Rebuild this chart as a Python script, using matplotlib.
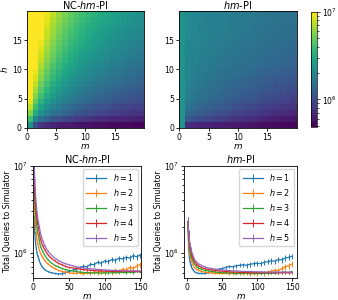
import numpy as np
import matplotlib
matplotlib.use("Agg")
import matplotlib.pyplot as plt
from matplotlib.colors import LogNorm
from matplotlib.ticker import NullFormatter

# Heatmaps: total queries (millions), rows h = 1..20 (bottom to top), columns m = 1..20
nc_grid = [
    [2.2, 1.0, 0.8, 0.72, 0.67, 0.63, 0.61, 0.6, 0.58, 0.57, 0.56, 0.55, 0.54, 0.54, 0.53, 0.53, 0.52, 0.52, 0.51, 0.51],
    [3.9, 2.0, 1.5, 1.25, 1.1, 1.0, 0.93, 0.87, 0.83, 0.79, 0.76, 0.74, 0.72, 0.7, 0.68, 0.67, 0.66, 0.65, 0.64, 0.63],
    [5.7, 3.1, 2.2, 1.8, 1.55, 1.4, 1.3, 1.2, 1.1, 1.04, 0.99, 0.95, 0.92, 0.89, 0.86, 0.84, 0.82, 0.80, 0.78, 0.77],
    [7.5, 4.0, 2.8, 2.2, 1.9, 1.7, 1.5, 1.4, 1.3, 1.22, 1.15, 1.1, 1.06, 1.02, 0.98, 0.95, 0.92, 0.9, 0.88, 0.86],
    [9.2, 4.8, 3.4, 2.6, 2.2, 1.94, 1.74, 1.6, 1.48, 1.39, 1.31, 1.25, 1.19, 1.14, 1.1, 1.06, 1.03, 1.0, 0.98, 0.95],
    [11, 5.7, 4.0, 3.1, 2.6, 2.2, 1.97, 1.8, 1.66, 1.55, 1.46, 1.39, 1.32, 1.27, 1.22, 1.17, 1.14, 1.1, 1.07, 1.04],
    [12.7, 6.6, 4.5, 3.5, 2.9, 2.5, 2.2, 2.0, 1.85, 1.72, 1.61, 1.53, 1.45, 1.39, 1.33, 1.28, 1.24, 1.2, 1.16, 1.13],
    [14.5, 7.45, 5.1, 4.0, 3.25, 2.8, 2.45, 2.2, 2.02, 1.88, 1.76, 1.66, 1.58, 1.51, 1.44, 1.39, 1.34, 1.29, 1.25, 1.22],
    [16.2, 8.3, 5.7, 4.4, 3.6, 3.1, 2.7, 2.42, 2.2, 2.04, 1.91, 1.8, 1.71, 1.63, 1.55, 1.49, 1.44, 1.39, 1.34, 1.3],
    [18, 9.2, 6.3, 4.8, 3.95, 3.4, 2.95, 2.6, 2.4, 2.2, 2.06, 1.94, 1.83, 1.74, 1.66, 1.6, 1.54, 1.48, 1.43, 1.39],
    [19.7, 10.1, 6.9, 5.3, 4.3, 3.7, 3.2, 2.9, 2.6, 2.4, 2.2, 2.07, 1.96, 1.86, 1.77, 1.7, 1.63, 1.57, 1.52, 1.47],
    [21.5, 11, 7.45, 5.7, 4.65, 3.95, 3.45, 3.1, 2.8, 2.55, 2.36, 2.2, 2.08, 1.97, 1.88, 1.8, 1.73, 1.66, 1.61, 1.55],
    [23.2, 11.8, 8.0, 6.1, 5.0, 4.2, 3.7, 3.3, 3.0, 2.7, 2.5, 2.35, 2.2, 2.09, 1.99, 1.9, 1.83, 1.76, 1.69, 1.64],
    [25, 12.7, 8.6, 6.6, 5.35, 4.5, 3.95, 3.5, 3.2, 2.9, 2.7, 2.5, 2.33, 2.2, 2.1, 2.0, 1.92, 1.85, 1.78, 1.72],
    [26.7, 13.6, 9.2, 7.0, 5.7, 4.8, 4.2, 3.7, 3.4, 3.1, 2.84, 2.6, 2.47, 2.33, 2.2, 2.1, 2.01, 1.94, 1.86, 1.8],
    [28.5, 14.5, 9.8, 7.45, 6.05, 5.1, 4.45, 3.95, 3.56, 3.25, 3.0, 2.8, 2.6, 2.45, 2.32, 2.2, 2.11, 2.02, 1.95, 1.88],
    [30.2, 15.3, 10.4, 7.9, 6.4, 5.4, 4.7, 4.17, 3.76, 3.4, 3.15, 2.93, 2.74, 2.58, 2.43, 2.31, 2.2, 2.11, 2.03, 1.96],
    [32, 16.2, 11, 8.3, 6.75, 5.7, 4.95, 4.4, 3.95, 3.6, 3.3, 3.1, 2.87, 2.7, 2.55, 2.42, 2.3, 2.2, 2.12, 2.04],
    [33.7, 17.1, 11.5, 8.8, 7.1, 6.0, 5.2, 4.6, 4.15, 3.8, 3.47, 3.22, 3.0, 2.82, 2.67, 2.53, 2.4, 2.3, 2.2, 2.12],
    [35.5, 18, 12.1, 9.2, 7.45, 6.3, 5.45, 4.8, 4.34, 3.95, 3.63, 3.4, 3.14, 2.95, 2.8, 2.6, 2.51, 2.4, 2.29, 2.2],
]

hm_grid = [
    [2.3, 0.72, 0.69, 0.67, 0.66, 0.65, 0.63, 0.62, 0.61, 0.60, 0.59, 0.58, 0.57, 0.56, 0.55, 0.54, 0.535, 0.53, 0.52, 0.515],
    [2.3, 1.12, 1.03, 0.97, 0.92, 0.89, 0.86, 0.83, 0.80, 0.77, 0.75, 0.73, 0.71, 0.69, 0.66, 0.64, 0.63, 0.61, 0.60, 0.58],
    [2.3, 1.39, 1.26, 1.18, 1.12, 1.08, 1.04, 1.0, 0.95, 0.92, 0.88, 0.86, 0.83, 0.81, 0.78, 0.75, 0.73, 0.71, 0.70, 0.67],
    [2.3, 1.56, 1.42, 1.33, 1.27, 1.21, 1.16, 1.12, 1.07, 1.03, 1.0, 0.97, 0.94, 0.91, 0.87, 0.85, 0.83, 0.80, 0.78, 0.76],
    [2.3, 1.66, 1.52, 1.42, 1.35, 1.30, 1.25, 1.21, 1.16, 1.12, 1.08, 1.05, 1.02, 0.99, 0.95, 0.93, 0.90, 0.87, 0.85, 0.83],
    [2.3, 1.76, 1.61, 1.53, 1.46, 1.40, 1.34, 1.30, 1.25, 1.21, 1.17, 1.14, 1.11, 1.08, 1.04, 1.02, 0.99, 0.96, 0.94, 0.91],
    [2.3, 1.81, 1.67, 1.58, 1.51, 1.46, 1.40, 1.34, 1.29, 1.25, 1.23, 1.19, 1.16, 1.13, 1.10, 1.07, 1.04, 1.02, 0.99, 0.97],
    [2.3, 1.87, 1.72, 1.64, 1.57, 1.52, 1.46, 1.42, 1.37, 1.33, 1.29, 1.26, 1.22, 1.19, 1.16, 1.13, 1.10, 1.08, 1.05, 1.03],
    [2.3, 1.90, 1.76, 1.68, 1.61, 1.56, 1.51, 1.47, 1.43, 1.39, 1.34, 1.31, 1.28, 1.25, 1.21, 1.19, 1.16, 1.14, 1.11, 1.09],
    [2.3, 1.92, 1.80, 1.72, 1.66, 1.61, 1.56, 1.53, 1.48, 1.44, 1.41, 1.38, 1.35, 1.32, 1.28, 1.25, 1.23, 1.20, 1.18, 1.16],
    [2.3, 1.95, 1.84, 1.76, 1.71, 1.66, 1.62, 1.58, 1.54, 1.51, 1.47, 1.45, 1.41, 1.38, 1.35, 1.33, 1.30, 1.28, 1.25, 1.23],
    [2.3, 1.98, 1.87, 1.79, 1.74, 1.70, 1.65, 1.62, 1.57, 1.54, 1.51, 1.48, 1.45, 1.42, 1.39, 1.36, 1.34, 1.31, 1.29, 1.27],
    [2.3, 1.98, 1.88, 1.80, 1.76, 1.71, 1.67, 1.63, 1.59, 1.56, 1.53, 1.51, 1.47, 1.45, 1.42, 1.39, 1.37, 1.35, 1.33, 1.30],
    [2.3, 2.0, 1.90, 1.84, 1.79, 1.74, 1.71, 1.67, 1.63, 1.59, 1.56, 1.54, 1.50, 1.48, 1.45, 1.43, 1.40, 1.38, 1.36, 1.34],
    [2.3, 2.0, 1.91, 1.85, 1.80, 1.76, 1.72, 1.69, 1.66, 1.63, 1.60, 1.58, 1.54, 1.52, 1.49, 1.47, 1.45, 1.43, 1.41, 1.39],
    [2.3, 2.04, 1.94, 1.88, 1.83, 1.79, 1.76, 1.72, 1.69, 1.65, 1.62, 1.60, 1.57, 1.56, 1.53, 1.50, 1.48, 1.47, 1.45, 1.43],
    [2.3, 2.04, 1.95, 1.89, 1.84, 1.81, 1.77, 1.73, 1.70, 1.67, 1.64, 1.62, 1.59, 1.57, 1.55, 1.52, 1.50, 1.48, 1.47, 1.45],
    [2.3, 2.04, 1.96, 1.89, 1.85, 1.82, 1.78, 1.74, 1.71, 1.68, 1.65, 1.63, 1.60, 1.58, 1.55, 1.54, 1.52, 1.50, 1.48, 1.47],
    [2.3, 2.04, 1.96, 1.90, 1.86, 1.82, 1.79, 1.76, 1.72, 1.70, 1.68, 1.65, 1.62, 1.61, 1.58, 1.56, 1.55, 1.52, 1.50, 1.49],
    [2.3, 2.04, 1.96, 1.91, 1.86, 1.83, 1.79, 1.76, 1.73, 1.70, 1.68, 1.65, 1.63, 1.61, 1.58, 1.56, 1.55, 1.53, 1.52, 1.50],
]

# Line plots: total queries (millions) vs m for h = 1..5
m_vals = [1, 2, 3, 4, 5, 6, 8, 10, 13, 16, 20, 25, 30, 35, 40, 45, 50, 55, 60, 65, 70,
          75, 80, 85, 90, 95, 100, 105, 110, 115, 120, 125, 130, 135, 140, 145, 149]

nc_h1 = [2.6, 1.7, 1.35, 1.15, 1.02, 0.95, 0.84, 0.76, 0.69, 0.65, 0.62, 0.6, 0.59, 0.58, 0.585, 0.6, 0.62, 0.64, 0.66,
         0.69, 0.71, 0.7, 0.75, 0.74, 0.79, 0.77, 0.82, 0.8, 0.85, 0.83, 0.88, 0.86, 0.9, 0.88, 0.94, 0.91, 0.95]
nc_h2 = [5.5, 2.9, 2.1, 1.7, 1.45, 1.3, 1.12, 1.0, 0.9, 0.83, 0.76, 0.71, 0.67, 0.64, 0.62, 0.61, 0.6, 0.59, 0.59,
         0.6, 0.58, 0.6, 0.59, 0.61, 0.6, 0.62, 0.6, 0.63, 0.61, 0.64, 0.62, 0.66, 0.64, 0.69, 0.67, 0.72, 0.74]
nc_h3 = [8.0, 4.2, 3.0, 2.4, 2.0, 1.75, 1.45, 1.2, 1.05, 0.95, 0.85, 0.78, 0.73, 0.7, 0.67, 0.65, 0.64, 0.63, 0.62,
         0.61, 0.605, 0.6, 0.6, 0.595, 0.6, 0.59, 0.6, 0.595, 0.6, 0.6, 0.6, 0.605, 0.6, 0.61, 0.6, 0.62, 0.61]
nc_h4 = [10.5, 5.5, 3.8, 3.0, 2.5, 2.2, 1.8, 1.45, 1.22, 1.1, 0.97, 0.88, 0.82, 0.77, 0.74, 0.71, 0.69, 0.68, 0.67,
         0.66, 0.65, 0.645, 0.64, 0.635, 0.63, 0.63, 0.625, 0.625, 0.62, 0.62, 0.62, 0.62, 0.62, 0.62, 0.62, 0.62, 0.62]
nc_h5 = [13, 7, 4.8, 3.7, 3.0, 2.6, 2.1, 1.7, 1.4, 1.22, 1.07, 0.96, 0.88, 0.83, 0.79, 0.76, 0.74, 0.72, 0.7,
         0.69, 0.68, 0.67, 0.665, 0.66, 0.655, 0.65, 0.645, 0.64, 0.64, 0.635, 0.635, 0.63, 0.63, 0.63, 0.63, 0.63, 0.63]

hm_h1 = [2.3, 1.15, 0.9, 0.8, 0.74, 0.7, 0.65, 0.62, 0.6, 0.59, 0.59, 0.585, 0.6, 0.62, 0.64, 0.66, 0.67, 0.69, 0.71,
         0.7, 0.72, 0.73, 0.74, 0.73, 0.75, 0.76, 0.77, 0.76, 0.79, 0.8, 0.82, 0.81, 0.85, 0.84, 0.88, 0.9, 0.92]
hm_h2 = [2.3, 1.4, 1.1, 0.95, 0.87, 0.81, 0.74, 0.69, 0.66, 0.64, 0.62, 0.61, 0.6, 0.595, 0.59, 0.59, 0.585, 0.59, 0.585,
         0.59, 0.58, 0.59, 0.585, 0.59, 0.58, 0.59, 0.585, 0.6, 0.59, 0.61, 0.62, 0.64, 0.63, 0.67, 0.7, 0.72, 0.75]
hm_h3 = [2.3, 1.55, 1.25, 1.08, 0.98, 0.91, 0.82, 0.76, 0.71, 0.68, 0.66, 0.64, 0.63, 0.62, 0.61, 0.605, 0.6, 0.6, 0.595,
         0.595, 0.59, 0.59, 0.59, 0.59, 0.59, 0.585, 0.59, 0.585, 0.59, 0.59, 0.595, 0.59, 0.6, 0.6, 0.61, 0.6, 0.62]
hm_h4 = [2.3, 1.65, 1.35, 1.18, 1.07, 0.99, 0.88, 0.81, 0.75, 0.72, 0.69, 0.67, 0.655, 0.645, 0.635, 0.63, 0.625, 0.62, 0.615,
         0.61, 0.61, 0.605, 0.605, 0.6, 0.6, 0.6, 0.6, 0.6, 0.6, 0.6, 0.6, 0.6, 0.6, 0.6, 0.6, 0.6, 0.6]
hm_h5 = [2.3, 1.75, 1.45, 1.27, 1.15, 1.07, 0.95, 0.86, 0.8, 0.76, 0.73, 0.7, 0.68, 0.67, 0.66, 0.65, 0.645, 0.64, 0.635,
         0.63, 0.63, 0.625, 0.62, 0.62, 0.62, 0.615, 0.615, 0.615, 0.61, 0.61, 0.61, 0.61, 0.61, 0.61, 0.61, 0.61, 0.61]

# error bars (millions)
err_h1 = [0.12, 0.05, 0.03, 0.02, 0.02, 0.015, 0.01, 0.01, 0.01, 0.01, 0.01, 0.01, 0.012, 0.015, 0.02, 0.02, 0.025, 0.03, 0.03,
          0.035, 0.035, 0.04, 0.04, 0.045, 0.045, 0.05, 0.05, 0.05, 0.055, 0.055, 0.06, 0.06, 0.065, 0.065, 0.07, 0.07, 0.07]
err_h2 = [0.2, 0.08, 0.04, 0.03, 0.02, 0.015, 0.01, 0.01, 0.01, 0.01, 0.01, 0.01, 0.01, 0.01, 0.01, 0.012, 0.012, 0.015, 0.015,
          0.02, 0.02, 0.025, 0.025, 0.03, 0.03, 0.03, 0.035, 0.035, 0.04, 0.04, 0.045, 0.045, 0.05, 0.05, 0.055, 0.06, 0.06]
err_smooth = [0.3, 0.1, 0.05, 0.03, 0.02, 0.02, 0.015, 0.01, 0.01, 0.01, 0.008, 0.008, 0.008, 0.008, 0.008, 0.008, 0.008, 0.008, 0.01,
              0.01, 0.01, 0.01, 0.01, 0.01, 0.01, 0.01, 0.012, 0.012, 0.012, 0.012, 0.012, 0.015, 0.015, 0.015, 0.015, 0.015, 0.015]

plt.rcParams['font.size'] = 5.6
plt.rcParams['axes.linewidth'] = 0.6

fig = plt.figure(figsize=(3.38, 3.0), dpi=100)
ax_nc = fig.add_axes([0.079, 0.574, 0.347, 0.39])
ax_hm = fig.add_axes([0.5305, 0.574, 0.347, 0.39])
cax = fig.add_axes([0.919, 0.578, 0.0178, 0.383])
ax_l = fig.add_axes([0.0985, 0.074, 0.318, 0.374])
ax_r = fig.add_axes([0.545, 0.074, 0.334, 0.374])

norm = LogNorm(vmin=4.9e5, vmax=1e7)
edges = np.arange(21)
mesh = ax_nc.pcolormesh(edges, edges, np.array(nc_grid) * 1e6, cmap='viridis', norm=norm)
ax_hm.pcolormesh(edges, edges, np.array(hm_grid) * 1e6, cmap='viridis', norm=norm)

for ax, title in [(ax_nc, 'NC-$hm$-PI'), (ax_hm, '$hm$-PI')]:
    ax.set_xticks([0, 5, 10, 15])
    ax.set_yticks([0, 5, 10, 15])
    ax.set_xlabel('$m$', fontsize=6.3, labelpad=0)
    ax.set_title(title, fontsize=7, pad=1.5)
    ax.tick_params(length=2.5, width=0.6, pad=1.0, labelsize=5.6)
ax_nc.set_ylabel('$h$', fontsize=6.3, labelpad=1.5)

cb = fig.colorbar(mesh, cax=cax)
cb.ax.yaxis.set_minor_formatter(NullFormatter())
cb.ax.tick_params(which='both', width=0.5, pad=1.2, labelsize=5.6)
cb.ax.tick_params(which='major', length=2.5)
cb.ax.tick_params(which='minor', length=1.5)
cb.outline.set_linewidth(0.5)

colors = plt.cm.tab10.colors
panels = [
    (ax_l, 'NC-$hm$-PI', [nc_h1, nc_h2, nc_h3, nc_h4, nc_h5], (0, 150.5)),
    (ax_r, '$hm$-PI', [hm_h1, hm_h2, hm_h3, hm_h4, hm_h5], (-4.3, 157)),
]
errs = [err_h1, err_h2, err_smooth, err_smooth, err_smooth]
for ax, title, series, xlim in panels:
    for i, vals in enumerate(series):
        ax.errorbar(m_vals, np.array(vals) * 1e6, yerr=np.array(errs[i]) * 1e6,
                    color=colors[i], lw=0.9, elinewidth=0.7, label=f'$h = {i + 1}$')
    ax.set_yscale('log')
    ax.set_ylim(5.25e5, 1e7)
    ax.set_xlim(*xlim)
    ax.yaxis.set_minor_formatter(NullFormatter())
    ax.set_xticks([0, 50, 100, 150])
    ax.set_xlabel('$m$', fontsize=6.3, labelpad=0)
    ax.set_ylabel('Total Queries to Simulator', fontsize=5.6, labelpad=1)
    ax.set_title(title, fontsize=7, pad=2)
    ax.tick_params(which='both', width=0.6, pad=1.0, labelsize=5.6)
    ax.tick_params(which='major', length=2.5)
    ax.tick_params(which='minor', length=1.5)
    ax.legend(loc='upper right', fontsize=5.8, handlelength=2.5, borderaxespad=0.4,
              labelspacing=0.5, handletextpad=0.8)

fig.savefig('out.png', dpi=100)
